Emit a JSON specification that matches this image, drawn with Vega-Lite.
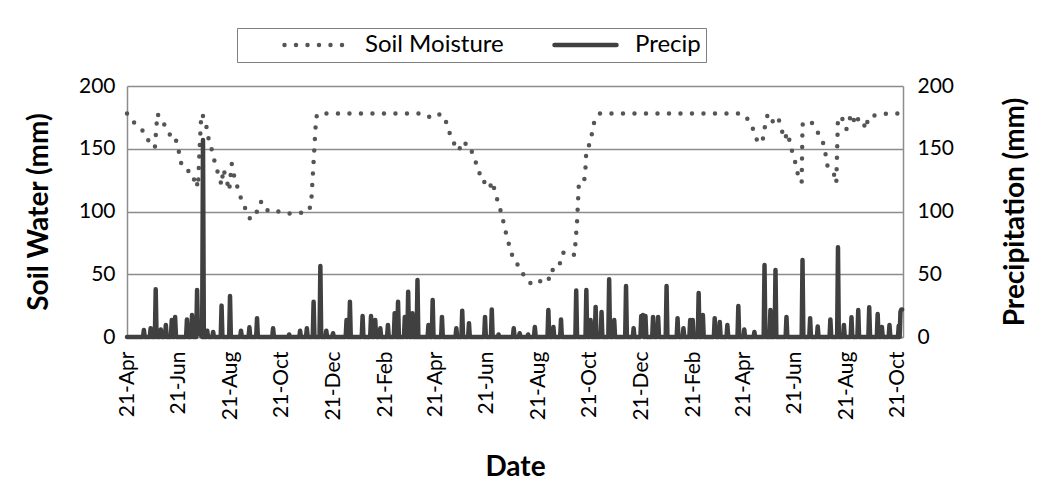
{
  "$schema": "https://vega.github.io/schema/vega-lite/v6.json",
  "autosize": "none",
  "padding": {"left": 127, "top": 86, "right": 147, "bottom": 162},
  "width": 776,
  "height": 251,
  "background": "white",
  "config": {
    "font": "Lato",
    "view": {"stroke": null},
    "axis": {"labelFont": "Lato", "titleFont": "Lato", "labelColor": "#000", "titleColor": "#000", "domainColor": "#8c8c8c", "domainWidth": 1.5, "tickColor": "#8c8c8c", "gridColor": "#8c8c8c", "gridWidth": 1.5}
  },
  "datasets": {
    "soil": [
      {"series": "Soil Moisture", "date": "2009-04-21", "mm": 178},
      {"series": "Soil Moisture", "date": "2009-04-28", "mm": 171.6},
      {"series": "Soil Moisture", "date": "2009-05-08", "mm": 166},
      {"series": "Soil Moisture", "date": "2009-05-14", "mm": 159.6},
      {"series": "Soil Moisture", "date": "2009-05-19", "mm": 153},
      {"series": "Soil Moisture", "date": "2009-05-24", "mm": 150.8},
      {"series": "Soil Moisture", "date": "2009-05-27", "mm": 178},
      {"series": "Soil Moisture", "date": "2009-06-01", "mm": 172},
      {"series": "Soil Moisture", "date": "2009-06-06", "mm": 167.6},
      {"series": "Soil Moisture", "date": "2009-06-09", "mm": 164.4},
      {"series": "Soil Moisture", "date": "2009-06-13", "mm": 157},
      {"series": "Soil Moisture", "date": "2009-06-17", "mm": 158},
      {"series": "Soil Moisture", "date": "2009-06-20", "mm": 154},
      {"series": "Soil Moisture", "date": "2009-06-22", "mm": 145},
      {"series": "Soil Moisture", "date": "2009-06-25", "mm": 136},
      {"series": "Soil Moisture", "date": "2009-07-03", "mm": 132},
      {"series": "Soil Moisture", "date": "2009-07-06", "mm": 127},
      {"series": "Soil Moisture", "date": "2009-07-09", "mm": 125},
      {"series": "Soil Moisture", "date": "2009-07-11", "mm": 128},
      {"series": "Soil Moisture", "date": "2009-07-14", "mm": 119},
      {"series": "Soil Moisture", "date": "2009-07-16", "mm": 150},
      {"series": "Soil Moisture", "date": "2009-07-18", "mm": 178},
      {"series": "Soil Moisture", "date": "2009-07-20", "mm": 176},
      {"series": "Soil Moisture", "date": "2009-07-25", "mm": 165.5},
      {"series": "Soil Moisture", "date": "2009-07-27", "mm": 156},
      {"series": "Soil Moisture", "date": "2009-07-31", "mm": 148},
      {"series": "Soil Moisture", "date": "2009-08-03", "mm": 139},
      {"series": "Soil Moisture", "date": "2009-08-07", "mm": 130},
      {"series": "Soil Moisture", "date": "2009-08-11", "mm": 121},
      {"series": "Soil Moisture", "date": "2009-08-13", "mm": 134},
      {"series": "Soil Moisture", "date": "2009-08-17", "mm": 125},
      {"series": "Soil Moisture", "date": "2009-08-20", "mm": 116.6},
      {"series": "Soil Moisture", "date": "2009-08-23", "mm": 138},
      {"series": "Soil Moisture", "date": "2009-08-26", "mm": 128},
      {"series": "Soil Moisture", "date": "2009-08-30", "mm": 119},
      {"series": "Soil Moisture", "date": "2009-09-03", "mm": 110.5},
      {"series": "Soil Moisture", "date": "2009-09-08", "mm": 102.5},
      {"series": "Soil Moisture", "date": "2009-09-13", "mm": 94.6},
      {"series": "Soil Moisture", "date": "2009-09-21", "mm": 96},
      {"series": "Soil Moisture", "date": "2009-09-23", "mm": 106},
      {"series": "Soil Moisture", "date": "2009-09-28", "mm": 108},
      {"series": "Soil Moisture", "date": "2009-10-05", "mm": 100.4},
      {"series": "Soil Moisture", "date": "2009-10-12", "mm": 101},
      {"series": "Soil Moisture", "date": "2009-10-25", "mm": 98.5},
      {"series": "Soil Moisture", "date": "2009-11-08", "mm": 98.5},
      {"series": "Soil Moisture", "date": "2009-11-21", "mm": 99.6},
      {"series": "Soil Moisture", "date": "2009-11-25", "mm": 105},
      {"series": "Soil Moisture", "date": "2009-11-28", "mm": 140},
      {"series": "Soil Moisture", "date": "2009-12-01", "mm": 175},
      {"series": "Soil Moisture", "date": "2009-12-03", "mm": 178},
      {"series": "Soil Moisture", "date": "2010-04-06", "mm": 178},
      {"series": "Soil Moisture", "date": "2010-04-11", "mm": 176},
      {"series": "Soil Moisture", "date": "2010-04-16", "mm": 175},
      {"series": "Soil Moisture", "date": "2010-04-23", "mm": 178},
      {"series": "Soil Moisture", "date": "2010-05-02", "mm": 176},
      {"series": "Soil Moisture", "date": "2010-05-06", "mm": 166},
      {"series": "Soil Moisture", "date": "2010-05-11", "mm": 158},
      {"series": "Soil Moisture", "date": "2010-05-16", "mm": 150},
      {"series": "Soil Moisture", "date": "2010-05-19", "mm": 148.5},
      {"series": "Soil Moisture", "date": "2010-05-23", "mm": 156},
      {"series": "Soil Moisture", "date": "2010-05-27", "mm": 154},
      {"series": "Soil Moisture", "date": "2010-06-01", "mm": 153},
      {"series": "Soil Moisture", "date": "2010-06-05", "mm": 144},
      {"series": "Soil Moisture", "date": "2010-06-10", "mm": 136},
      {"series": "Soil Moisture", "date": "2010-06-14", "mm": 127},
      {"series": "Soil Moisture", "date": "2010-06-17", "mm": 127},
      {"series": "Soil Moisture", "date": "2010-06-19", "mm": 121},
      {"series": "Soil Moisture", "date": "2010-06-24", "mm": 118.5},
      {"series": "Soil Moisture", "date": "2010-06-28", "mm": 124},
      {"series": "Soil Moisture", "date": "2010-07-01", "mm": 114.5},
      {"series": "Soil Moisture", "date": "2010-07-05", "mm": 106.5},
      {"series": "Soil Moisture", "date": "2010-07-09", "mm": 97},
      {"series": "Soil Moisture", "date": "2010-07-12", "mm": 88},
      {"series": "Soil Moisture", "date": "2010-07-15", "mm": 79.4},
      {"series": "Soil Moisture", "date": "2010-07-19", "mm": 70},
      {"series": "Soil Moisture", "date": "2010-07-23", "mm": 61},
      {"series": "Soil Moisture", "date": "2010-07-30", "mm": 56},
      {"series": "Soil Moisture", "date": "2010-08-05", "mm": 47.5},
      {"series": "Soil Moisture", "date": "2010-08-14", "mm": 41.4},
      {"series": "Soil Moisture", "date": "2010-08-23", "mm": 44.4},
      {"series": "Soil Moisture", "date": "2010-09-02", "mm": 43.8},
      {"series": "Soil Moisture", "date": "2010-09-04", "mm": 53.4},
      {"series": "Soil Moisture", "date": "2010-09-08", "mm": 53.4},
      {"series": "Soil Moisture", "date": "2010-09-15", "mm": 55.2},
      {"series": "Soil Moisture", "date": "2010-09-17", "mm": 64.8},
      {"series": "Soil Moisture", "date": "2010-09-21", "mm": 68},
      {"series": "Soil Moisture", "date": "2010-10-03", "mm": 65.3},
      {"series": "Soil Moisture", "date": "2010-10-06", "mm": 92},
      {"series": "Soil Moisture", "date": "2010-10-08", "mm": 120},
      {"series": "Soil Moisture", "date": "2010-10-14", "mm": 121.4},
      {"series": "Soil Moisture", "date": "2010-10-16", "mm": 135},
      {"series": "Soil Moisture", "date": "2010-10-17", "mm": 149},
      {"series": "Soil Moisture", "date": "2010-10-22", "mm": 155},
      {"series": "Soil Moisture", "date": "2010-10-24", "mm": 164},
      {"series": "Soil Moisture", "date": "2010-10-27", "mm": 173.5},
      {"series": "Soil Moisture", "date": "2010-11-02", "mm": 178},
      {"series": "Soil Moisture", "date": "2011-04-20", "mm": 178},
      {"series": "Soil Moisture", "date": "2011-04-27", "mm": 173},
      {"series": "Soil Moisture", "date": "2011-05-03", "mm": 165},
      {"series": "Soil Moisture", "date": "2011-05-07", "mm": 157},
      {"series": "Soil Moisture", "date": "2011-05-13", "mm": 154.3},
      {"series": "Soil Moisture", "date": "2011-05-15", "mm": 161},
      {"series": "Soil Moisture", "date": "2011-05-17", "mm": 170},
      {"series": "Soil Moisture", "date": "2011-05-20", "mm": 178},
      {"series": "Soil Moisture", "date": "2011-05-26", "mm": 171.6},
      {"series": "Soil Moisture", "date": "2011-05-30", "mm": 174},
      {"series": "Soil Moisture", "date": "2011-06-01", "mm": 175.5},
      {"series": "Soil Moisture", "date": "2011-06-05", "mm": 165.5},
      {"series": "Soil Moisture", "date": "2011-06-09", "mm": 157.5},
      {"series": "Soil Moisture", "date": "2011-06-12", "mm": 163},
      {"series": "Soil Moisture", "date": "2011-06-15", "mm": 155.6},
      {"series": "Soil Moisture", "date": "2011-06-18", "mm": 146.9},
      {"series": "Soil Moisture", "date": "2011-06-22", "mm": 137.8},
      {"series": "Soil Moisture", "date": "2011-06-25", "mm": 128},
      {"series": "Soil Moisture", "date": "2011-06-29", "mm": 123},
      {"series": "Soil Moisture", "date": "2011-06-30", "mm": 169.5},
      {"series": "Soil Moisture", "date": "2011-07-05", "mm": 167.6},
      {"series": "Soil Moisture", "date": "2011-07-11", "mm": 170.8},
      {"series": "Soil Moisture", "date": "2011-07-15", "mm": 166},
      {"series": "Soil Moisture", "date": "2011-07-21", "mm": 160},
      {"series": "Soil Moisture", "date": "2011-07-24", "mm": 155.6},
      {"series": "Soil Moisture", "date": "2011-07-27", "mm": 147},
      {"series": "Soil Moisture", "date": "2011-07-29", "mm": 137},
      {"series": "Soil Moisture", "date": "2011-08-02", "mm": 134.4},
      {"series": "Soil Moisture", "date": "2011-08-04", "mm": 131.7},
      {"series": "Soil Moisture", "date": "2011-08-08", "mm": 127.7},
      {"series": "Soil Moisture", "date": "2011-08-09", "mm": 122.5},
      {"series": "Soil Moisture", "date": "2011-08-11", "mm": 175.5},
      {"series": "Soil Moisture", "date": "2011-08-17", "mm": 173.5},
      {"series": "Soil Moisture", "date": "2011-08-21", "mm": 165.5},
      {"series": "Soil Moisture", "date": "2011-08-24", "mm": 172},
      {"series": "Soil Moisture", "date": "2011-08-27", "mm": 178},
      {"series": "Soil Moisture", "date": "2011-09-01", "mm": 169},
      {"series": "Soil Moisture", "date": "2011-09-04", "mm": 174},
      {"series": "Soil Moisture", "date": "2011-09-08", "mm": 174},
      {"series": "Soil Moisture", "date": "2011-09-13", "mm": 165.5},
      {"series": "Soil Moisture", "date": "2011-09-16", "mm": 175.5},
      {"series": "Soil Moisture", "date": "2011-09-26", "mm": 177},
      {"series": "Soil Moisture", "date": "2011-10-08", "mm": 178},
      {"series": "Soil Moisture", "date": "2011-10-26", "mm": 178}
    ],
    "precip": [
      {"series": "Precip", "date": "2009-04-21", "mm": 0},
      {"series": "Precip", "date": "2009-05-10", "mm": 0},
      {"series": "Precip", "date": "2009-05-11", "mm": 5.6},
      {"series": "Precip", "date": "2009-05-12", "mm": 0},
      {"series": "Precip", "date": "2009-05-18", "mm": 0},
      {"series": "Precip", "date": "2009-05-19", "mm": 7},
      {"series": "Precip", "date": "2009-05-20", "mm": 0},
      {"series": "Precip", "date": "2009-05-24", "mm": 0},
      {"series": "Precip", "date": "2009-05-25", "mm": 38},
      {"series": "Precip", "date": "2009-05-26", "mm": 0},
      {"series": "Precip", "date": "2009-05-30", "mm": 0},
      {"series": "Precip", "date": "2009-05-31", "mm": 6},
      {"series": "Precip", "date": "2009-06-01", "mm": 0},
      {"series": "Precip", "date": "2009-06-05", "mm": 0},
      {"series": "Precip", "date": "2009-06-06", "mm": 9.6},
      {"series": "Precip", "date": "2009-06-07", "mm": 0},
      {"series": "Precip", "date": "2009-06-12", "mm": 0},
      {"series": "Precip", "date": "2009-06-13", "mm": 13.5},
      {"series": "Precip", "date": "2009-06-14", "mm": 0},
      {"series": "Precip", "date": "2009-06-16", "mm": 0},
      {"series": "Precip", "date": "2009-06-17", "mm": 16},
      {"series": "Precip", "date": "2009-06-18", "mm": 0},
      {"series": "Precip", "date": "2009-06-30", "mm": 0},
      {"series": "Precip", "date": "2009-07-01", "mm": 14},
      {"series": "Precip", "date": "2009-07-02", "mm": 0},
      {"series": "Precip", "date": "2009-07-06", "mm": 0},
      {"series": "Precip", "date": "2009-07-07", "mm": 17.5},
      {"series": "Precip", "date": "2009-07-08", "mm": 0},
      {"series": "Precip", "date": "2009-07-12", "mm": 0},
      {"series": "Precip", "date": "2009-07-13", "mm": 37.5},
      {"series": "Precip", "date": "2009-07-14", "mm": 5},
      {"series": "Precip", "date": "2009-07-19", "mm": 0},
      {"series": "Precip", "date": "2009-07-20", "mm": 157},
      {"series": "Precip", "date": "2009-07-21", "mm": 0},
      {"series": "Precip", "date": "2009-07-24", "mm": 0},
      {"series": "Precip", "date": "2009-07-25", "mm": 5},
      {"series": "Precip", "date": "2009-07-26", "mm": 0},
      {"series": "Precip", "date": "2009-07-31", "mm": 0},
      {"series": "Precip", "date": "2009-08-01", "mm": 4},
      {"series": "Precip", "date": "2009-08-02", "mm": 0},
      {"series": "Precip", "date": "2009-08-10", "mm": 0},
      {"series": "Precip", "date": "2009-08-11", "mm": 25},
      {"series": "Precip", "date": "2009-08-12", "mm": 0},
      {"series": "Precip", "date": "2009-08-20", "mm": 0},
      {"series": "Precip", "date": "2009-08-21", "mm": 32.7},
      {"series": "Precip", "date": "2009-08-22", "mm": 0},
      {"series": "Precip", "date": "2009-09-02", "mm": 0},
      {"series": "Precip", "date": "2009-09-03", "mm": 5},
      {"series": "Precip", "date": "2009-09-04", "mm": 0},
      {"series": "Precip", "date": "2009-09-12", "mm": 0},
      {"series": "Precip", "date": "2009-09-13", "mm": 7.7},
      {"series": "Precip", "date": "2009-09-14", "mm": 0},
      {"series": "Precip", "date": "2009-09-21", "mm": 0},
      {"series": "Precip", "date": "2009-09-22", "mm": 15},
      {"series": "Precip", "date": "2009-09-23", "mm": 0},
      {"series": "Precip", "date": "2009-10-10", "mm": 0},
      {"series": "Precip", "date": "2009-10-11", "mm": 7},
      {"series": "Precip", "date": "2009-10-12", "mm": 0},
      {"series": "Precip", "date": "2009-10-29", "mm": 0},
      {"series": "Precip", "date": "2009-10-30", "mm": 2},
      {"series": "Precip", "date": "2009-10-31", "mm": 0},
      {"series": "Precip", "date": "2009-11-11", "mm": 0},
      {"series": "Precip", "date": "2009-11-12", "mm": 5},
      {"series": "Precip", "date": "2009-11-13", "mm": 0},
      {"series": "Precip", "date": "2009-11-19", "mm": 0},
      {"series": "Precip", "date": "2009-11-20", "mm": 7},
      {"series": "Precip", "date": "2009-11-21", "mm": 0},
      {"series": "Precip", "date": "2009-11-27", "mm": 0},
      {"series": "Precip", "date": "2009-11-28", "mm": 28},
      {"series": "Precip", "date": "2009-11-29", "mm": 0},
      {"series": "Precip", "date": "2009-12-05", "mm": 0},
      {"series": "Precip", "date": "2009-12-06", "mm": 56.6},
      {"series": "Precip", "date": "2009-12-07", "mm": 0},
      {"series": "Precip", "date": "2009-12-12", "mm": 0},
      {"series": "Precip", "date": "2009-12-13", "mm": 5},
      {"series": "Precip", "date": "2009-12-14", "mm": 0},
      {"series": "Precip", "date": "2009-12-20", "mm": 0},
      {"series": "Precip", "date": "2009-12-21", "mm": 3},
      {"series": "Precip", "date": "2009-12-22", "mm": 0},
      {"series": "Precip", "date": "2010-01-05", "mm": 0},
      {"series": "Precip", "date": "2010-01-06", "mm": 13.5},
      {"series": "Precip", "date": "2010-01-07", "mm": 0},
      {"series": "Precip", "date": "2010-01-09", "mm": 0},
      {"series": "Precip", "date": "2010-01-10", "mm": 28},
      {"series": "Precip", "date": "2010-01-11", "mm": 0},
      {"series": "Precip", "date": "2010-01-24", "mm": 0},
      {"series": "Precip", "date": "2010-01-25", "mm": 16.7},
      {"series": "Precip", "date": "2010-01-26", "mm": 0},
      {"series": "Precip", "date": "2010-02-03", "mm": 0},
      {"series": "Precip", "date": "2010-02-04", "mm": 16.7},
      {"series": "Precip", "date": "2010-02-05", "mm": 0},
      {"series": "Precip", "date": "2010-02-08", "mm": 0},
      {"series": "Precip", "date": "2010-02-09", "mm": 13.5},
      {"series": "Precip", "date": "2010-02-10", "mm": 0},
      {"series": "Precip", "date": "2010-02-14", "mm": 0},
      {"series": "Precip", "date": "2010-02-15", "mm": 7},
      {"series": "Precip", "date": "2010-02-16", "mm": 0},
      {"series": "Precip", "date": "2010-02-23", "mm": 0},
      {"series": "Precip", "date": "2010-02-24", "mm": 9.6},
      {"series": "Precip", "date": "2010-02-25", "mm": 0},
      {"series": "Precip", "date": "2010-03-03", "mm": 0},
      {"series": "Precip", "date": "2010-03-04", "mm": 19},
      {"series": "Precip", "date": "2010-03-05", "mm": 0},
      {"series": "Precip", "date": "2010-03-07", "mm": 0},
      {"series": "Precip", "date": "2010-03-08", "mm": 28},
      {"series": "Precip", "date": "2010-03-09", "mm": 0},
      {"series": "Precip", "date": "2010-03-15", "mm": 0},
      {"series": "Precip", "date": "2010-03-16", "mm": 16},
      {"series": "Precip", "date": "2010-03-17", "mm": 0},
      {"series": "Precip", "date": "2010-03-19", "mm": 0},
      {"series": "Precip", "date": "2010-03-20", "mm": 36},
      {"series": "Precip", "date": "2010-03-21", "mm": 0},
      {"series": "Precip", "date": "2010-03-24", "mm": 0},
      {"series": "Precip", "date": "2010-03-25", "mm": 19},
      {"series": "Precip", "date": "2010-03-26", "mm": 0},
      {"series": "Precip", "date": "2010-03-30", "mm": 0},
      {"series": "Precip", "date": "2010-03-31", "mm": 45.4},
      {"series": "Precip", "date": "2010-04-01", "mm": 0},
      {"series": "Precip", "date": "2010-04-12", "mm": 0},
      {"series": "Precip", "date": "2010-04-13", "mm": 9.6},
      {"series": "Precip", "date": "2010-04-14", "mm": 0},
      {"series": "Precip", "date": "2010-04-17", "mm": 0},
      {"series": "Precip", "date": "2010-04-18", "mm": 29.5},
      {"series": "Precip", "date": "2010-04-19", "mm": 0},
      {"series": "Precip", "date": "2010-04-28", "mm": 0},
      {"series": "Precip", "date": "2010-04-29", "mm": 16},
      {"series": "Precip", "date": "2010-04-30", "mm": 0},
      {"series": "Precip", "date": "2010-05-15", "mm": 0},
      {"series": "Precip", "date": "2010-05-16", "mm": 7},
      {"series": "Precip", "date": "2010-05-17", "mm": 0},
      {"series": "Precip", "date": "2010-05-22", "mm": 0},
      {"series": "Precip", "date": "2010-05-23", "mm": 21},
      {"series": "Precip", "date": "2010-05-24", "mm": 0},
      {"series": "Precip", "date": "2010-05-30", "mm": 0},
      {"series": "Precip", "date": "2010-05-31", "mm": 11},
      {"series": "Precip", "date": "2010-06-01", "mm": 0},
      {"series": "Precip", "date": "2010-06-18", "mm": 0},
      {"series": "Precip", "date": "2010-06-19", "mm": 16},
      {"series": "Precip", "date": "2010-06-20", "mm": 0},
      {"series": "Precip", "date": "2010-06-26", "mm": 0},
      {"series": "Precip", "date": "2010-06-27", "mm": 22},
      {"series": "Precip", "date": "2010-06-28", "mm": 0},
      {"series": "Precip", "date": "2010-07-04", "mm": 0},
      {"series": "Precip", "date": "2010-07-05", "mm": 2},
      {"series": "Precip", "date": "2010-07-06", "mm": 0},
      {"series": "Precip", "date": "2010-07-22", "mm": 0},
      {"series": "Precip", "date": "2010-07-23", "mm": 7},
      {"series": "Precip", "date": "2010-07-24", "mm": 0},
      {"series": "Precip", "date": "2010-07-29", "mm": 0},
      {"series": "Precip", "date": "2010-07-30", "mm": 3},
      {"series": "Precip", "date": "2010-07-31", "mm": 0},
      {"series": "Precip", "date": "2010-08-08", "mm": 0},
      {"series": "Precip", "date": "2010-08-09", "mm": 2},
      {"series": "Precip", "date": "2010-08-10", "mm": 0},
      {"series": "Precip", "date": "2010-08-16", "mm": 0},
      {"series": "Precip", "date": "2010-08-17", "mm": 8},
      {"series": "Precip", "date": "2010-08-18", "mm": 0},
      {"series": "Precip", "date": "2010-09-01", "mm": 0},
      {"series": "Precip", "date": "2010-09-02", "mm": 21.5},
      {"series": "Precip", "date": "2010-09-03", "mm": 0},
      {"series": "Precip", "date": "2010-09-07", "mm": 0},
      {"series": "Precip", "date": "2010-09-08", "mm": 8},
      {"series": "Precip", "date": "2010-09-09", "mm": 0},
      {"series": "Precip", "date": "2010-09-16", "mm": 0},
      {"series": "Precip", "date": "2010-09-17", "mm": 14},
      {"series": "Precip", "date": "2010-09-18", "mm": 0},
      {"series": "Precip", "date": "2010-10-04", "mm": 0},
      {"series": "Precip", "date": "2010-10-05", "mm": 37},
      {"series": "Precip", "date": "2010-10-06", "mm": 0},
      {"series": "Precip", "date": "2010-10-16", "mm": 0},
      {"series": "Precip", "date": "2010-10-17", "mm": 37.5},
      {"series": "Precip", "date": "2010-10-18", "mm": 0},
      {"series": "Precip", "date": "2010-10-21", "mm": 0},
      {"series": "Precip", "date": "2010-10-22", "mm": 13.5},
      {"series": "Precip", "date": "2010-10-23", "mm": 0},
      {"series": "Precip", "date": "2010-10-27", "mm": 0},
      {"series": "Precip", "date": "2010-10-28", "mm": 24},
      {"series": "Precip", "date": "2010-10-29", "mm": 0},
      {"series": "Precip", "date": "2010-11-03", "mm": 0},
      {"series": "Precip", "date": "2010-11-04", "mm": 20},
      {"series": "Precip", "date": "2010-11-05", "mm": 0},
      {"series": "Precip", "date": "2010-11-12", "mm": 0},
      {"series": "Precip", "date": "2010-11-13", "mm": 46},
      {"series": "Precip", "date": "2010-11-14", "mm": 0},
      {"series": "Precip", "date": "2010-11-18", "mm": 0},
      {"series": "Precip", "date": "2010-11-19", "mm": 13.5},
      {"series": "Precip", "date": "2010-11-20", "mm": 0},
      {"series": "Precip", "date": "2010-12-02", "mm": 0},
      {"series": "Precip", "date": "2010-12-03", "mm": 40.6},
      {"series": "Precip", "date": "2010-12-04", "mm": 0},
      {"series": "Precip", "date": "2010-12-11", "mm": 0},
      {"series": "Precip", "date": "2010-12-12", "mm": 7},
      {"series": "Precip", "date": "2010-12-13", "mm": 0},
      {"series": "Precip", "date": "2010-12-20", "mm": 0},
      {"series": "Precip", "date": "2010-12-21", "mm": 16.7},
      {"series": "Precip", "date": "2010-12-22", "mm": 5},
      {"series": "Precip", "date": "2010-12-23", "mm": 17.5},
      {"series": "Precip", "date": "2010-12-24", "mm": 0},
      {"series": "Precip", "date": "2010-12-25", "mm": 0},
      {"series": "Precip", "date": "2010-12-26", "mm": 16.7},
      {"series": "Precip", "date": "2010-12-27", "mm": 0},
      {"series": "Precip", "date": "2011-01-03", "mm": 0},
      {"series": "Precip", "date": "2011-01-04", "mm": 16},
      {"series": "Precip", "date": "2011-01-05", "mm": 0},
      {"series": "Precip", "date": "2011-01-09", "mm": 0},
      {"series": "Precip", "date": "2011-01-10", "mm": 16},
      {"series": "Precip", "date": "2011-01-11", "mm": 0},
      {"series": "Precip", "date": "2011-01-19", "mm": 0},
      {"series": "Precip", "date": "2011-01-20", "mm": 40.6},
      {"series": "Precip", "date": "2011-01-21", "mm": 0},
      {"series": "Precip", "date": "2011-02-01", "mm": 0},
      {"series": "Precip", "date": "2011-02-02", "mm": 15},
      {"series": "Precip", "date": "2011-02-03", "mm": 0},
      {"series": "Precip", "date": "2011-02-08", "mm": 0},
      {"series": "Precip", "date": "2011-02-09", "mm": 7},
      {"series": "Precip", "date": "2011-02-10", "mm": 0},
      {"series": "Precip", "date": "2011-02-16", "mm": 0},
      {"series": "Precip", "date": "2011-02-17", "mm": 13.5},
      {"series": "Precip", "date": "2011-02-18", "mm": 0},
      {"series": "Precip", "date": "2011-02-19", "mm": 0},
      {"series": "Precip", "date": "2011-02-20", "mm": 13.5},
      {"series": "Precip", "date": "2011-02-21", "mm": 0},
      {"series": "Precip", "date": "2011-02-26", "mm": 0},
      {"series": "Precip", "date": "2011-02-27", "mm": 35},
      {"series": "Precip", "date": "2011-02-28", "mm": 0},
      {"series": "Precip", "date": "2011-03-03", "mm": 0},
      {"series": "Precip", "date": "2011-03-04", "mm": 17.5},
      {"series": "Precip", "date": "2011-03-05", "mm": 0},
      {"series": "Precip", "date": "2011-03-17", "mm": 0},
      {"series": "Precip", "date": "2011-03-18", "mm": 15},
      {"series": "Precip", "date": "2011-03-19", "mm": 0},
      {"series": "Precip", "date": "2011-03-23", "mm": 0},
      {"series": "Precip", "date": "2011-03-24", "mm": 12},
      {"series": "Precip", "date": "2011-03-25", "mm": 0},
      {"series": "Precip", "date": "2011-04-01", "mm": 0},
      {"series": "Precip", "date": "2011-04-02", "mm": 9.6},
      {"series": "Precip", "date": "2011-04-03", "mm": 0},
      {"series": "Precip", "date": "2011-04-14", "mm": 0},
      {"series": "Precip", "date": "2011-04-15", "mm": 24.7},
      {"series": "Precip", "date": "2011-04-16", "mm": 0},
      {"series": "Precip", "date": "2011-04-21", "mm": 0},
      {"series": "Precip", "date": "2011-04-22", "mm": 6},
      {"series": "Precip", "date": "2011-04-23", "mm": 0},
      {"series": "Precip", "date": "2011-05-03", "mm": 0},
      {"series": "Precip", "date": "2011-05-04", "mm": 4},
      {"series": "Precip", "date": "2011-05-05", "mm": 0},
      {"series": "Precip", "date": "2011-05-15", "mm": 0},
      {"series": "Precip", "date": "2011-05-16", "mm": 57.4},
      {"series": "Precip", "date": "2011-05-17", "mm": 0},
      {"series": "Precip", "date": "2011-05-22", "mm": 0},
      {"series": "Precip", "date": "2011-05-23", "mm": 21.5},
      {"series": "Precip", "date": "2011-05-24", "mm": 0},
      {"series": "Precip", "date": "2011-05-28", "mm": 0},
      {"series": "Precip", "date": "2011-05-29", "mm": 53.4},
      {"series": "Precip", "date": "2011-05-30", "mm": 0},
      {"series": "Precip", "date": "2011-06-10", "mm": 0},
      {"series": "Precip", "date": "2011-06-11", "mm": 16},
      {"series": "Precip", "date": "2011-06-12", "mm": 0},
      {"series": "Precip", "date": "2011-06-29", "mm": 0},
      {"series": "Precip", "date": "2011-06-30", "mm": 61.4},
      {"series": "Precip", "date": "2011-07-01", "mm": 0},
      {"series": "Precip", "date": "2011-07-08", "mm": 0},
      {"series": "Precip", "date": "2011-07-09", "mm": 15},
      {"series": "Precip", "date": "2011-07-10", "mm": 0},
      {"series": "Precip", "date": "2011-07-17", "mm": 0},
      {"series": "Precip", "date": "2011-07-18", "mm": 8.4},
      {"series": "Precip", "date": "2011-07-19", "mm": 0},
      {"series": "Precip", "date": "2011-08-01", "mm": 0},
      {"series": "Precip", "date": "2011-08-02", "mm": 14},
      {"series": "Precip", "date": "2011-08-03", "mm": 0},
      {"series": "Precip", "date": "2011-08-10", "mm": 0},
      {"series": "Precip", "date": "2011-08-11", "mm": 71.5},
      {"series": "Precip", "date": "2011-08-12", "mm": 0},
      {"series": "Precip", "date": "2011-08-17", "mm": 0},
      {"series": "Precip", "date": "2011-08-18", "mm": 9.6},
      {"series": "Precip", "date": "2011-08-19", "mm": 0},
      {"series": "Precip", "date": "2011-08-26", "mm": 0},
      {"series": "Precip", "date": "2011-08-27", "mm": 15.7},
      {"series": "Precip", "date": "2011-08-28", "mm": 0},
      {"series": "Precip", "date": "2011-09-03", "mm": 0},
      {"series": "Precip", "date": "2011-09-04", "mm": 21.5},
      {"series": "Precip", "date": "2011-09-05", "mm": 0},
      {"series": "Precip", "date": "2011-09-16", "mm": 0},
      {"series": "Precip", "date": "2011-09-17", "mm": 23.7},
      {"series": "Precip", "date": "2011-09-18", "mm": 0},
      {"series": "Precip", "date": "2011-09-26", "mm": 0},
      {"series": "Precip", "date": "2011-09-27", "mm": 18.3},
      {"series": "Precip", "date": "2011-09-28", "mm": 0},
      {"series": "Precip", "date": "2011-10-01", "mm": 0},
      {"series": "Precip", "date": "2011-10-02", "mm": 8},
      {"series": "Precip", "date": "2011-10-03", "mm": 0},
      {"series": "Precip", "date": "2011-10-10", "mm": 0},
      {"series": "Precip", "date": "2011-10-11", "mm": 9.6},
      {"series": "Precip", "date": "2011-10-12", "mm": 0},
      {"series": "Precip", "date": "2011-10-21", "mm": 0},
      {"series": "Precip", "date": "2011-10-22", "mm": 9},
      {"series": "Precip", "date": "2011-10-23", "mm": 0},
      {"series": "Precip", "date": "2011-10-24", "mm": 20},
      {"series": "Precip", "date": "2011-10-25", "mm": 22},
      {"series": "Precip", "date": "2011-10-26", "mm": 22}
    ]
  },
  "layer": [
    {
      "data": {"name": "soil"},
      "mark": {"type": "line", "strokeWidth": 4.5, "strokeCap": "round", "strokeJoin": "round", "clip": false},
      "encoding": {
        "x": {
          "field": "date", "type": "temporal",
          "scale": {"type": "utc", "domain": [{"year": 2009, "month": 4, "date": 21, "utc": true}, {"year": 2011, "month": 10, "date": 27, "utc": true}]},
          "axis": {
            "values": [
              {"year": 2009, "month": 4, "date": 21, "utc": true},
              {"year": 2009, "month": 6, "date": 21, "utc": true},
              {"year": 2009, "month": 8, "date": 21, "utc": true},
              {"year": 2009, "month": 10, "date": 21, "utc": true},
              {"year": 2009, "month": 12, "date": 21, "utc": true},
              {"year": 2010, "month": 2, "date": 21, "utc": true},
              {"year": 2010, "month": 4, "date": 21, "utc": true},
              {"year": 2010, "month": 6, "date": 21, "utc": true},
              {"year": 2010, "month": 8, "date": 21, "utc": true},
              {"year": 2010, "month": 10, "date": 21, "utc": true},
              {"year": 2010, "month": 12, "date": 21, "utc": true},
              {"year": 2011, "month": 2, "date": 21, "utc": true},
              {"year": 2011, "month": 4, "date": 21, "utc": true},
              {"year": 2011, "month": 6, "date": 21, "utc": true},
              {"year": 2011, "month": 8, "date": 21, "utc": true},
              {"year": 2011, "month": 10, "date": 21, "utc": true}
            ],
            "format": "%-d-%b",
            "labelAngle": -90,
            "labelFontSize": 21,
            "labelPadding": 14,
            "labelOverlap": false,
            "labelFlush": false,
            "labelBound": false,
            "ticks": false,
            "grid": false,
            "title": "Date",
            "titleFontSize": 28,
            "titleFontWeight": "bold",
            "titlePadding": 33
          }
        },
        "y": {
          "field": "mm", "type": "quantitative",
          "scale": {"domain": [0, 200], "nice": false},
          "axis": {"values": [0, 50, 100, 150, 200], "labelFontSize": 21, "labelPadding": 12, "ticks": false, "grid": true, "title": "Soil Water (mm)", "titleFontSize": 28, "titleFontWeight": "bold", "titlePadding": 25}
        },
        "color": {
          "field": "series", "type": "nominal",
          "scale": {"domain": ["Soil Moisture", "Precip"], "range": ["#555555", "#404040"]},
          "legend": {"orient": "none", "legendX": 110, "legendY": -58, "direction": "horizontal", "title": null, "strokeColor": "#7f7f7f", "padding": 5, "labelFontSize": 24, "labelFont": "Lato", "labelColor": "#000", "symbolType": "stroke", "symbolSize": 3844, "symbolStrokeWidth": 4.5, "clipHeight": 24, "symbolOffset": 40, "columnPadding": 8, "labelOffset": 16, "encode": {"symbols": {"update": {"strokeCap": {"value": "round"}}}}}
        },
        "strokeDash": {
          "field": "series", "type": "nominal",
          "scale": {"domain": ["Soil Moisture", "Precip"], "range": [[0, 11.5], [1, 0]]},
          "legend": {"orient": "none", "legendX": 110, "legendY": -58, "direction": "horizontal", "title": null, "strokeColor": "#7f7f7f", "padding": 5, "labelFontSize": 24, "labelFont": "Lato", "labelColor": "#000", "symbolType": "stroke", "symbolSize": 3844, "symbolStrokeWidth": 4.5, "clipHeight": 24, "symbolOffset": 40, "columnPadding": 8, "labelOffset": 16, "encode": {"symbols": {"update": {"strokeCap": {"value": "round"}}}}}
        }
      }
    },
    {
      "data": {"name": "precip"},
      "mark": {"type": "line", "strokeWidth": 4.5, "strokeCap": "round", "strokeJoin": "round", "clip": false},
      "encoding": {
        "x": {"field": "date", "type": "temporal"},
        "y": {
          "field": "mm", "type": "quantitative",
          "scale": {"domain": [0, 200], "nice": false},
          "axis": {"orient": "right", "values": [0, 50, 100, 150, 200], "labelFontSize": 21, "labelPadding": 14, "ticks": false, "grid": false, "title": "Precipitation (mm)", "titleFontSize": 28, "titleFontWeight": "bold", "titlePadding": 76, "titleAngle": 270}
        },
        "color": {"field": "series", "type": "nominal"},
        "strokeDash": {"field": "series", "type": "nominal"}
      }
    }
  ],
  "resolve": {"scale": {"y": "independent"}, "axis": {"y": "independent"}}
}
